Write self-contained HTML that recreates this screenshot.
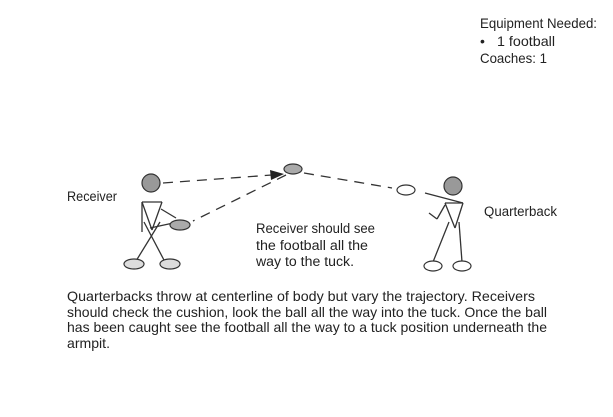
<!DOCTYPE html>
<html><head><meta charset="utf-8"><style>
html,body{margin:0;padding:0;background:#fff;}
svg{display:block;}
text{font-family:"Liberation Sans",sans-serif;fill:#222;}
</style></head><body>
<svg width="613" height="417" viewBox="0 0 613 417" xmlns="http://www.w3.org/2000/svg">
<rect width="613" height="417" fill="#fff"/>
<text x="480" y="28" font-size="14" textLength="117" lengthAdjust="spacingAndGlyphs">Equipment Needed:</text>
<text x="480" y="46" font-size="14">•</text>
<text x="497" y="46" font-size="14" textLength="58" lengthAdjust="spacingAndGlyphs">1 football</text>
<text x="480" y="63" font-size="14" textLength="67" lengthAdjust="spacingAndGlyphs">Coaches:  1</text>

<text x="67" y="201" font-size="13.5" textLength="50" lengthAdjust="spacingAndGlyphs">Receiver</text>
<text x="484" y="216" font-size="13.5" textLength="73" lengthAdjust="spacingAndGlyphs">Quarterback</text>
<text x="256" y="233" font-size="13.5" textLength="119" lengthAdjust="spacingAndGlyphs">Receiver should see</text>
<text x="256" y="250" font-size="13.5" textLength="112" lengthAdjust="spacingAndGlyphs">the football all the</text>
<text x="256" y="266" font-size="13.5" textLength="98" lengthAdjust="spacingAndGlyphs">way to the tuck.</text>

<text x="67" y="301" font-size="14" textLength="468" lengthAdjust="spacingAndGlyphs">Quarterbacks throw at centerline of body but vary the trajectory.  Receivers</text>
<text x="67" y="317" font-size="14" textLength="480" lengthAdjust="spacingAndGlyphs">should check the cushion, look the ball all the way into the tuck.  Once the ball</text>
<text x="67" y="332" font-size="14" textLength="480" lengthAdjust="spacingAndGlyphs">has been caught see the football all the way to a tuck position underneath the</text>
<text x="67" y="348" font-size="14" textLength="43" lengthAdjust="spacingAndGlyphs">armpit.</text>

<g stroke="#333" stroke-width="1.3" fill="none">
<line x1="163" y1="183" x2="272" y2="175" stroke-dasharray="10,7"/>
<line x1="286" y1="175" x2="193" y2="221" stroke-dasharray="10,7"/>
<line x1="304" y1="173" x2="392" y2="188" stroke-dasharray="10,7"/>
<line x1="142" y1="202" x2="162" y2="202"/>
<line x1="142" y1="202" x2="152" y2="230"/>
<line x1="162" y1="202" x2="152" y2="230"/>
<line x1="142" y1="202" x2="142" y2="232"/>
<line x1="144" y1="222" x2="165" y2="262"/>
<line x1="160" y1="222" x2="136" y2="261"/>
<line x1="161" y1="209" x2="176" y2="218"/>
<line x1="150" y1="228" x2="178" y2="222"/>
<line x1="425" y1="193" x2="463" y2="203"/>
<line x1="445" y1="203" x2="463" y2="203"/>
<line x1="445" y1="203" x2="455" y2="228"/>
<line x1="463" y1="203" x2="455" y2="228"/>
<line x1="445" y1="205" x2="437" y2="219"/>
<line x1="437" y1="219" x2="429" y2="213"/>
<line x1="449" y1="222" x2="433" y2="262"/>
<line x1="459" y1="222" x2="462" y2="262"/>
</g>
<polygon points="270,170 284,174 271,180" fill="#222"/>
<g stroke="#333" stroke-width="1.2">
<circle cx="151" cy="183" r="9" fill="#999"/>
<circle cx="453" cy="186" r="9" fill="#999"/>
<ellipse cx="180" cy="225" rx="10" ry="5" fill="#aaa"/>
<ellipse cx="293" cy="169" rx="9" ry="5" fill="#aaa"/>
<ellipse cx="406" cy="190" rx="9" ry="5" fill="#fff"/>
<ellipse cx="134" cy="264" rx="10" ry="5" fill="#ddd"/>
<ellipse cx="170" cy="264" rx="10" ry="5" fill="#ddd"/>
<ellipse cx="433" cy="266" rx="9" ry="5" fill="#fff"/>
<ellipse cx="462" cy="266" rx="9" ry="5" fill="#fff"/>
</g>
</svg>
</body></html>
